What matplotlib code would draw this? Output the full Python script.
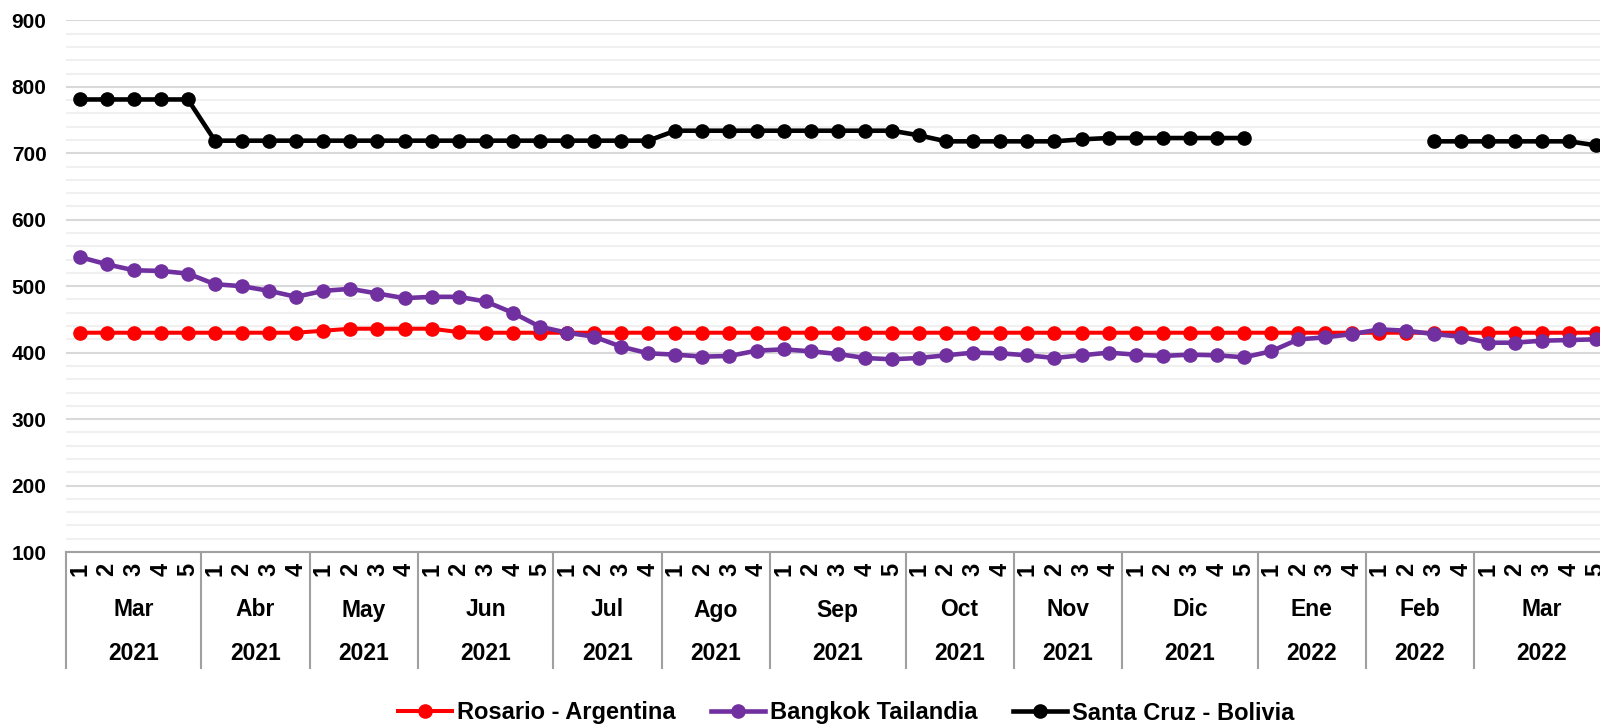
import numpy as np
import matplotlib
matplotlib.use("Agg")
import matplotlib.pyplot as plt
from matplotlib.lines import Line2D
from matplotlib.ticker import MultipleLocator
from matplotlib.transforms import blended_transform_factory

plt.rcParams["font.family"] = ["Liberation Sans", "DejaVu Sans"]
plt.rcParams["font.weight"] = "bold"

# category axis: weeks grouped by month and year
months = ["Mar", "Abr", "May", "Jun", "Jul", "Ago", "Sep", "Oct", "Nov", "Dic", "Ene", "Feb", "Mar"]
years = ["2021"] * 10 + ["2022"] * 3
weeks_per_month = [5, 4, 4, 5, 4, 4, 5, 4, 4, 5, 4, 4, 5]

rosario = [430, 430, 430, 430, 430, 430, 430, 430, 430, 433, 436, 436, 436, 436, 431,
           430, 430, 430, 430, 430, 430, 430, 430, 430, 430, 430, 430, 430, 430, 430,
           430, 430, 430, 430, 430, 430, 430, 430, 430, 430, 430, 430, 430, 430, 430,
           430, 430, 430, 430, 430, 430, 430, 430, 430, 430, 430, 430]
bangkok = [544, 533, 524, 523, 519, 503, 500, 493, 484, 493, 496, 489, 482, 484, 484,
           477, 460, 439, 430, 424, 409, 399, 397, 394, 395, 403, 405, 402, 398, 392,
           390, 392, 396, 400, 399, 396, 392, 396, 400, 397, 395, 397, 396, 393, 402,
           420, 423, 428, 435, 433, 428, 424, 415, 415, 418, 419, 420]
nan = np.nan
santa_cruz = [781, 781, 781, 781, 781, 719, 719, 719, 719, 719, 719, 719, 719, 719, 719,
              719, 719, 719, 719, 719, 719, 719, 734, 734, 734, 734, 734, 734, 734, 734,
              734, 727, 718, 718, 718, 718, 718, 721, 723, 723, 723, 723, 723, 723, nan,
              nan, nan, nan, nan, nan, 718, 718, 718, 718, 718, 718, 712]

series = [
    ("Rosario - Argentina", rosario, "#ff0000", 2.9),
    ("Bangkok Tailandia", bangkok, "#7030a0", 3.3),
    ("Santa Cruz - Bolivia", santa_cruz, "#000000", 3.3),
]

week_labels = [str(w + 1) for n in weeks_per_month for w in range(n)]
x = np.arange(len(week_labels))

W, H = 1600, 726
fig = plt.figure(figsize=(W / 100, H / 100), dpi=100)
ax = fig.add_axes([66 / W, 1 - 552 / H, 1543.6 / W, (552 - 20.4) / H])

for name, vals, color, lw in series:
    ax.plot(x, vals, color=color, lw=lw, marker="o", ms=9.5, label=name,
            solid_joinstyle="round")

ax.set_xlim(-0.5, len(x) - 0.5)
ax.set_ylim(100, 900)
ax.yaxis.set_major_locator(MultipleLocator(100))
ax.yaxis.set_minor_locator(MultipleLocator(20))
ax.grid(which="major", axis="y", color="#d9d9d9", lw=1.5)
ax.grid(which="minor", axis="y", color="#f0f0f0", lw=1.5)
ax.set_axisbelow(True)
for s in ("top", "right", "left"):
    ax.spines[s].set_visible(False)
ax.spines["bottom"].set_color("#a0a0a0")
ax.spines["bottom"].set_linewidth(1.5)
ax.tick_params(axis="y", which="both", length=0, pad=14, labelsize=15)
ax.tick_params(axis="x", length=0, pad=8, labelsize=17)
ax.set_xticks(x, week_labels, rotation=90)

# month / year rows and group separators
tr = blended_transform_factory(ax.transData, fig.transFigure)
start = 0
bounds = [-0.5]
for m, y, n in zip(months, years, weeks_per_month):
    mid = start + (n - 1) / 2
    ax.text(mid, 1 - 610 / H, m, transform=tr, ha="center", va="center", fontsize=16.5)
    ax.text(mid, 1 - 653 / H, y, transform=tr, ha="center", va="center", fontsize=16.5)
    start += n
    bounds.append(start - 0.5)
for b in bounds:
    ax.add_line(Line2D([b, b], [1 - 552 / H, 1 - 668 / H], transform=tr,
                       color="#a0a0a0", lw=1.5, clip_on=False))

handles = [Line2D([], [], color=c, lw=lw, marker="o", ms=9.5) for _, _, c, lw in series]
fig.legend(handles, [s[0] for s in series], loc="center", ncol=3,
           bbox_to_anchor=(846 / W, 1 - 713 / H), frameon=False, fontsize=17,
           handlelength=2.3, handletextpad=0.2, columnspacing=1.5)

fig.savefig("out.png", dpi=100)
